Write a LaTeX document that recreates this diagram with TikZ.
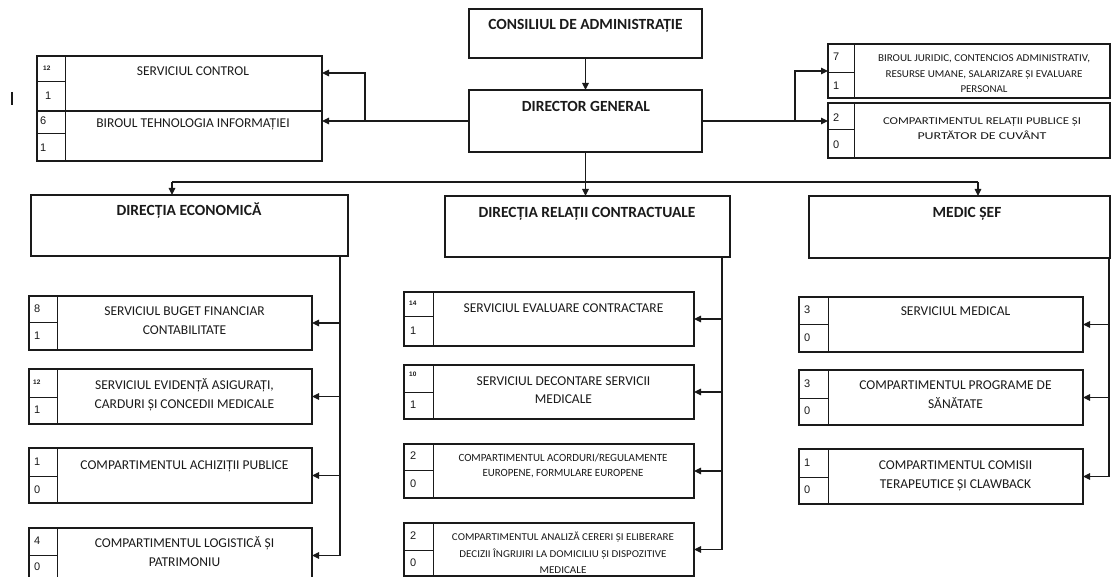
\documentclass[tikz,border=0pt]{standalone}
\usepackage{fontspec}
\setmainfont{Carlito}
\newfontfamily\numfont{Liberation Sans}
\usepackage{graphicx}
\usetikzlibrary{arrows.meta,calc}
\definecolor{ink}{HTML}{1A1A1A}
\tikzset{
 box/.style={draw=ink, line width=1.1pt, anchor=north west, inner sep=0pt, outer sep=0pt},
 sepline/.style={draw=ink, line width=1pt},
 wire/.style={draw=ink, line width=1.1pt},
 arr/.style={wire, -{Triangle[length=7pt,width=6.5pt]}},
 numst/.style={anchor=west, inner sep=0pt, font=\numfont\fontsize{11}{13}\selectfont, text=ink},
 smallnum/.style={anchor=west, inner sep=0pt, font=\numfont\bfseries\fontsize{6.5}{8}\selectfont, text=ink},
 lbl/.style={anchor=north, inner sep=0pt, align=center, text=ink},
}
\newcommand\regf{\fontsize{13.5}{19}\selectfont}
\newcommand\hdf{\fontsize{15.5}{18}\selectfont\bfseries}
\newcommand\smf{\fontsize{10.5}{15.5}\selectfont}
\newcommand\rw[2]{\resizebox{#1pt}{\height}{#2}}
\newcommand\bx[7]{%
  \node[box, minimum width={#4-#2}, minimum height={#5-#3}] (#1) at (#2,#3) {};
  \draw[sepline] (#6,#3) -- (#6,#5);
  \draw[sepline] (#2,#7) -- (#6,#7);
}
\newcommand\tx[5]{\node[lbl, font=#4] (#1) at (#2,{#3-9.6}) {\rule{0pt}{14pt}#5};}
\begin{document}
\begin{tikzpicture}[x=1pt,y=-1pt]
\useasboundingbox (0,0) rectangle (1111,577);
\clip (0,0) rectangle (1111,577);

% stray mark
\draw[ink, line width=1.6pt] (12,92) -- (12,105);

% top
\node[box, minimum width=233, minimum height=49] (CA) at (469,9) {};
\tx{CAt}{585.5}{25}{\hdf}{CONSILIUL DE ADMINISTRAȚIE}
\node[box, minimum width=233, minimum height=62] (DG) at (469,90) {};
\tx{DGt}{586}{107}{\hdf}{DIRECTOR GENERAL}
\draw[arr] (CA.south) -- (DG.north);

% top left
\bx{SC}{37}{56}{322}{111}{65}{82}
\tx{SCt}{193}{71}{\regf}{SERVICIUL CONTROL}
\node[smallnum] (SCa) at (43,68) {12};
\node[numst] (SCb) at (45,96) {1};
\bx{BT}{37}{111}{322}{161}{65}{134}
\tx{BTt}{193}{123}{\regf}{BIROUL TEHNOLOGIA INFORMAȚIEI}
\node[numst] (BTa) at (40,121) {6};
\node[numst] (BTb) at (40,148) {1};
\coordinate (jl) at (365,121);
\coordinate (scin) at (322,73);
\draw[arr] (DG.west) -- (DG.west -| BT.east);
\draw[arr] (jl) |- (scin);

% top right
\bx{BJ}{828}{44}{1110}{98}{854}{73}
\tx{BJt}{984}{57}{\smf}{\rw{212}{BIROUL JURIDIC, CONTENCIOS ADMINISTRATIV,}\\\rw{197}{RESURSE UMANE, SALARIZARE ȘI EVALUARE}\\\rw{47}{PERSONAL}}
\node[numst] (BJa) at (833,57) {7};
\node[numst] (BJb) at (833,86) {1};
\bx{CR}{828}{103}{1110}{158}{854}{130}
\tx{CRt}{982}{120}{\fontsize{10.5}{15}\selectfont}{\rw{198}{COMPARTIMENTUL RELAȚII PUBLICE ȘI}\\\rw{129}{PURTĂTOR DE CUVÂNT}}
\node[numst] (CRa) at (833,118) {2};
\node[numst] (CRb) at (833,145) {0};
\coordinate (jr) at (795,121);
\draw[arr] (DG.east) -- (DG.east -| CR.west);
\draw[arr] (jr) |- (BJ.west);

% directions
\node[box, minimum width=317, minimum height=61] (DE) at (31,195) {};
\tx{DEt}{189}{211}{\hdf}{DIRECȚIA ECONOMICĂ}
\node[box, minimum width=285, minimum height=61] (DR) at (445,196) {};
\tx{DRt}{587}{213}{\hdf}{DIRECȚIA RELAȚII CONTRACTUALE}
\node[box, minimum width=301, minimum height=62] (MS) at (809,196) {};
\tx{MSt}{967}{213}{\hdf}{MEDIC ȘEF}

\coordinate (bl) at (172,182);
\coordinate (br) at (978,182);
\draw[wire] (bl) -- (br);
\draw[arr] (DG.south) -- (DG.south |- DR.north);
\draw[arr] (bl) -- (bl |- DE.north);
\draw[arr] (br) -- (br |- MS.north);

% left column
\bx{L1}{29}{296}{312}{350}{57}{323}
\tx{L1t}{184.5}{311}{\regf}{SERVICIUL BUGET FINANCIAR\\CONTABILITATE}
\node[numst] (L1a) at (34,309) {8};
\node[numst] (L1b) at (34,336) {1};
\bx{L2}{29}{369}{312}{424}{57}{397}
\tx{L2t}{184.5}{385}{\regf}{SERVICIUL EVIDENȚĂ ASIGURAȚI,\\CARDURI ȘI CONCEDII MEDICALE}
\node[smallnum] (L2a) at (33,382) {12};
\node[numst] (L2b) at (34,410) {1};
\bx{L3}{29}{448}{312}{503}{57}{476}
\tx{L3t}{184.5}{465}{\regf}{COMPARTIMENTUL ACHIZIȚII PUBLICE}
\node[numst] (L3a) at (34,462) {1};
\node[numst] (L3b) at (34,490) {0};
\bx{L4}{29}{528}{312}{583}{57}{555}
\tx{L4t}{184.5}{543}{\regf}{COMPARTIMENTUL LOGISTICĂ ȘI\\PATRIMONIU}
\node[numst] (L4a) at (34,541) {4};
\node[numst] (L4b) at (34,567) {0};
\coordinate (lb) at (340,0);
\draw[arr] (lb |- DE.south) |- (L4.east);
\draw[arr] (lb |- L1.east) -- (L1.east);
\draw[arr] (lb |- L2.east) -- (L2.east);
\draw[arr] (lb |- L3.east) -- (L3.east);

% middle column
\bx{M1}{404}{292}{694}{346}{433}{317}
\tx{M1t}{563.5}{308}{\regf}{SERVICIUL EVALUARE CONTRACTARE}
\node[smallnum] (M1a) at (409,303) {14};
\node[numst] (M1b) at (410,331) {1};
\bx{M2}{404}{365}{694}{419}{433}{392}
\tx{M2t}{563.5}{381}{\fontsize{13.5}{18}\selectfont}{SERVICIUL DECONTARE SERVICII\\MEDICALE}
\node[smallnum] (M2a) at (409,374) {10};
\node[numst] (M2b) at (410,405) {1};
\bx{M3}{404}{444}{694}{498}{433}{470}
\tx{M3t}{563}{457}{\fontsize{11}{15}\selectfont}{\rw{209}{COMPARTIMENTUL ACORDURI/REGULAMENTE}\\\rw{161}{EUROPENE, FORMULARE EUROPENE}}
\node[numst] (M3a) at (410,456) {2};
\node[numst] (M3b) at (410,484) {0};
\bx{M4}{404}{523}{694}{576}{433}{550}
\tx{M4t}{563}{536}{\fontsize{10.5}{16.5}\selectfont}{\rw{222}{COMPARTIMENTUL ANALIZĂ CERERI ȘI ELIBERARE}\\\rw{207}{DECIZII ÎNGRIJIRI LA DOMICILIU ȘI DISPOZITIVE}\\\rw{47}{MEDICALE}}
\node[numst] (M4a) at (410,536) {2};
\node[numst] (M4b) at (410,563) {0};
\coordinate (mb) at (722,0);
\draw[arr] (mb |- DR.south) |- (M4.east);
\draw[arr] (mb |- M1.east) -- (M1.east);
\draw[arr] (mb |- M2.east) -- (M2.east);
\draw[arr] (mb |- M3.east) -- (M3.east);

% right column
\bx{R1}{799}{297}{1083}{352}{828}{325}
\tx{R1t}{955.5}{311}{\regf}{SERVICIUL MEDICAL}
\node[numst] (R1a) at (804,310) {3};
\node[numst] (R1b) at (804,338) {0};
\bx{R2}{799}{370}{1083}{425}{828}{398}
\tx{R2t}{955.5}{385}{\regf}{COMPARTIMENTUL PROGRAME DE\\SĂNĂTATE}
\node[numst] (R2a) at (804,384) {3};
\node[numst] (R2b) at (804,411) {0};
\bx{R3}{799}{449}{1083}{504}{828}{477}
\tx{R3t}{955.5}{465}{\regf}{COMPARTIMENTUL COMISII\\TERAPEUTICE ȘI CLAWBACK}
\node[numst] (R3a) at (804,463) {1};
\node[numst] (R3b) at (804,490) {0};
\coordinate (rb) at (1109,0);
\draw[arr] (rb |- MS.south) |- (R3.east);
\draw[arr] (rb |- R1.east) -- (R1.east);
\draw[arr] (rb |- R2.east) -- (R2.east);
\end{tikzpicture}
\end{document}
